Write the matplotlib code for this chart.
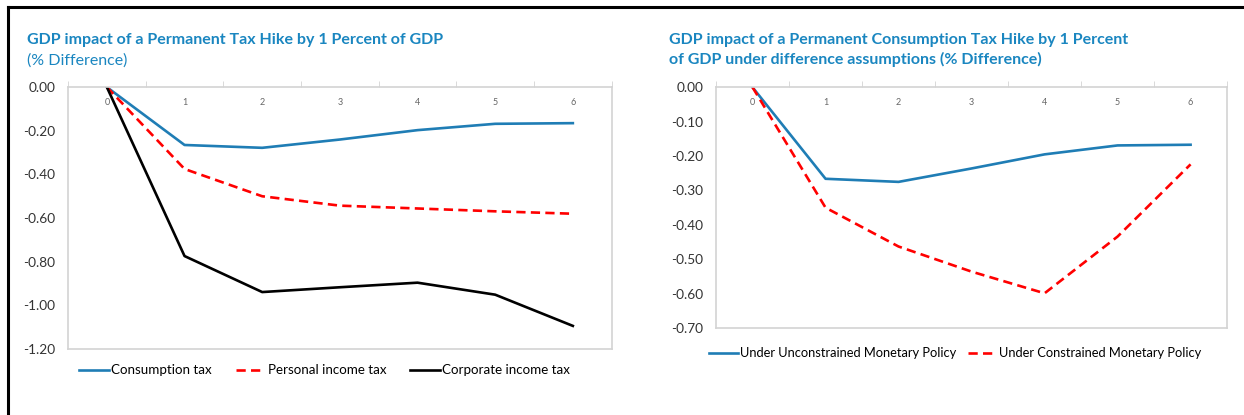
import matplotlib.pyplot as plt
from matplotlib.lines import Line2D

plt.rcParams['font.family'] = ['Lato', 'DejaVu Sans']

# periods (years after the tax hike)
periods = [0, 1, 2, 3, 4, 5, 6]
period_labels = ["0", "1", "2", "3", "4", "5", "6"]

# left panel: GDP impact by tax type (% difference)
consumption_tax = [0.0, -0.265, -0.278, -0.240, -0.197, -0.168, -0.165]
personal_income_tax = [0.0, -0.375, -0.500, -0.543, -0.556, -0.569, -0.580]
corporate_income_tax = [0.0, -0.774, -0.939, -0.917, -0.896, -0.951, -1.094]

# right panel: consumption tax hike under different monetary policy
unconstrained = [0.0, -0.266, -0.275, -0.236, -0.195, -0.169, -0.167]
constrained = [0.0, -0.350, -0.463, -0.536, -0.599, -0.434, -0.224]

blue = '#1f7db5'
title_blue = '#1a86c0'
spine_grey = '#d3d3d3'

fig = plt.figure(figsize=(12.44, 4.15), dpi=100)

ax1 = fig.add_axes([0.0547, 0.159, 0.437, 0.631])
ax2 = fig.add_axes([0.5756, 0.2096, 0.4108, 0.580])

dash = (0, (3.5, 2))
ax1.plot(periods, consumption_tax, color=blue, lw=1.9, label='Consumption tax')
ax1.plot(periods, personal_income_tax, color='#ff0000', lw=1.9, ls=dash, label='Personal income tax')
ax1.plot(periods, corporate_income_tax, color='black', lw=1.9, label='Corporate income tax')
ax1.set_ylim(-1.2, 0)
ax1.set_yticks([0, -0.2, -0.4, -0.6, -0.8, -1.0, -1.2])
ax1.set_yticklabels(['0.00', '-0.20', '-0.40', '-0.60', '-0.80', '-1.00', '-1.20'])

ax2.plot(periods, unconstrained, color=blue, lw=1.9, label='Under Unconstrained Monetary Policy')
ax2.plot(periods, constrained, color='#ff0000', lw=1.9, ls=dash, label='Under Constrained Monetary Policy')
ax2.set_ylim(-0.7, 0)
ax2.set_yticks([0, -0.1, -0.2, -0.3, -0.4, -0.5, -0.6, -0.7])
ax2.set_yticklabels(['0.00', '-0.10', '-0.20', '-0.30', '-0.40', '-0.50', '-0.60', '-0.70'])

for ax in (ax1, ax2):
    ax.set_xlim(-0.5, 6.5)
    for s in ax.spines.values():
        s.set_color(spine_grey)
        s.set_linewidth(1.2)
    ax.xaxis.tick_top()
    ax.set_xticks(periods)
    ax.set_xticklabels(period_labels)
    ax.set_xticks([p - 0.5 for p in periods] + [6.5], minor=True)
    ax.tick_params(axis='x', which='major', length=0, pad=-14, labelsize=6.5, labelcolor='#666666')
    ax.tick_params(axis='x', which='minor', length=4, color=spine_grey, direction='out', top=True)
    ax.tick_params(axis='y', length=0, pad=9, labelsize=9.8, labelcolor='#333333')

# titles
fig.text(0.0217, 0.893, 'GDP impact of a Permanent Tax Hike by 1 Percent of GDP',
         color=title_blue, fontsize=11.5, fontweight='bold', va='baseline')
fig.text(0.0217, 0.845, '(% Difference)', color=title_blue, fontsize=11.5, va='baseline')
fig.text(0.538, 0.893, 'GDP impact of a Permanent Consumption Tax Hike by 1 Percent',
         color=title_blue, fontsize=11.5, fontweight='bold', va='baseline')
fig.text(0.538, 0.845, 'of GDP under difference assumptions (% Difference)',
         color=title_blue, fontsize=11.5, fontweight='bold', va='baseline')

h1, l1 = ax1.get_legend_handles_labels()
fig.legend(h1, l1, loc='center', bbox_to_anchor=(0.261, 0.108), ncol=3, frameon=False,
           fontsize=9.6, handlelength=2.2, handletextpad=0.2, columnspacing=1.8)
h2, l2 = ax2.get_legend_handles_labels()
fig.legend(h2, l2, loc='center', bbox_to_anchor=(0.768, 0.149), ncol=2, frameon=False,
           fontsize=9.3, handlelength=2.2, handletextpad=0.2, columnspacing=0.9)

# black frame on top and left edges
fig.add_artist(Line2D([0.0065, 0.0065], [0, 0.983], transform=fig.transFigure, color='black', lw=2.2))
fig.add_artist(Line2D([0.0065, 1.0], [0.983, 0.983], transform=fig.transFigure, color='black', lw=2.2))

fig.savefig('out.png', dpi=100)
